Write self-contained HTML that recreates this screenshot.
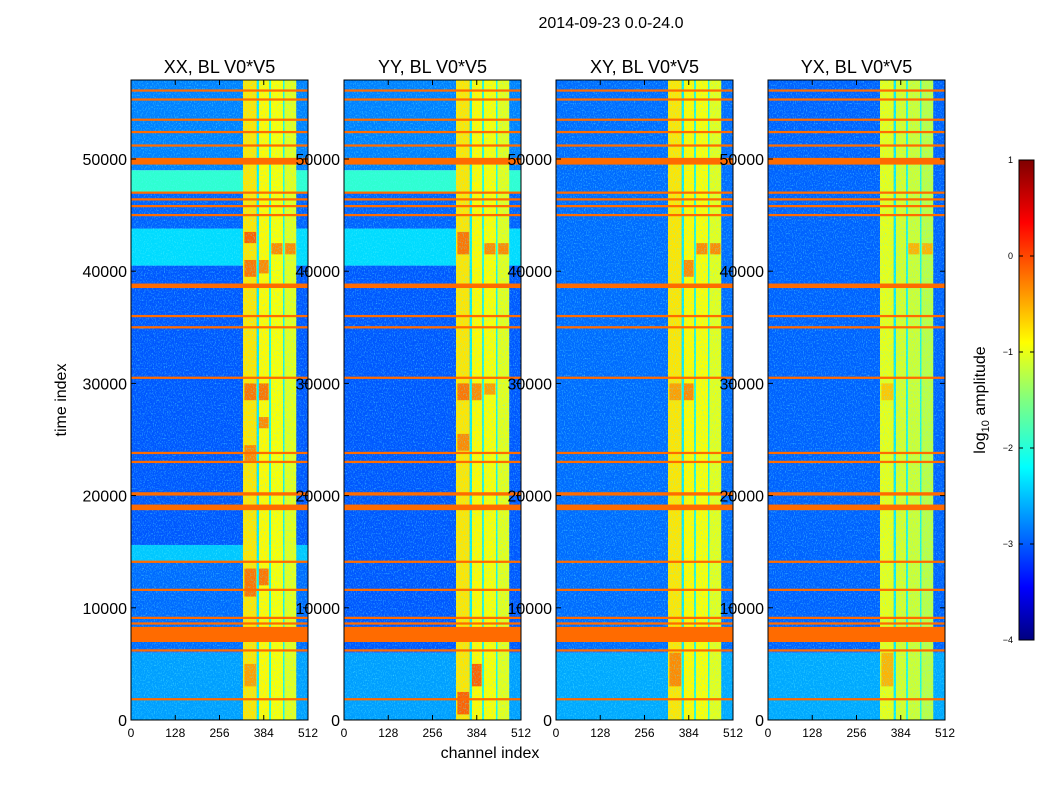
<!DOCTYPE html>
<html><head><meta charset="utf-8"><style>
body{margin:0;background:#fff;width:1050px;height:800px;overflow:hidden}
text{font-family:"Liberation Sans","DejaVu Sans",sans-serif}
</style></head><body>
<svg id="fig" width="1050" height="800" xmlns="http://www.w3.org/2000/svg">
<defs>
<filter id="noise" x="0" y="0" width="100%" height="100%">
<feTurbulence type="fractalNoise" baseFrequency="0.9 0.6" numOctaves="2" seed="3"/>
<feColorMatrix type="matrix" values="0 0 0 0 0.1  0 0 0 0 0.9  0 0 0 0 1  0 0 0 2.6 -1.3"/>
</filter>
<linearGradient id="cbgrad" x1="0" y1="1" x2="0" y2="0">
<stop offset="0" stop-color="#00007f"/><stop offset="0.11" stop-color="#0000ff"/>
<stop offset="0.36" stop-color="#00ffff"/><stop offset="0.5" stop-color="#80ff80"/><stop offset="0.62" stop-color="#ffff00"/>
<stop offset="0.87" stop-color="#ff0000"/><stop offset="1" stop-color="#7f0000"/>
</linearGradient>
</defs>
<text x="611" y="28" font-size="16" text-anchor="middle">2014-09-23 0.0-24.0</text>
</svg>
<script>
const panelTitles = ["XX, BL V0*V5","YY, BL V0*V5","XY, BL V0*V5","YX, BL V0*V5"];
const yTicks = [0,10000,20000,30000,40000,50000];
const xTicks = [0,128,256,384,512];
const cbTicks = [1,0,-1,-2,-3,-4];
const bgXX = [[0,6000,-2.6],[6000,14200,-2.85],[14200,15600,-2.4],[15600,40500,-2.95],[40500,43800,-2.3],[43800,47000,-2.9],[47000,49000,-1.9],[49000,57000,-2.75]];
const bgYY = [[0,6000,-2.6],[6000,40500,-2.95],[40500,43800,-2.3],[43800,47000,-2.9],[47000,49000,-1.9],[49000,57000,-2.75]];
const bgXY = [[0,6000,-2.55],[6000,57000,-2.85]];
const bgYX = [[0,6000,-2.55],[6000,57000,-2.9]];
const hBands = [[1750,1950,-0.15],[6100,6300,-0.15],[6950,8300,-0.15],[8500,8700,-0.15],[9000,9200,-0.15],[11500,11700,-0.15],[14000,14200,-0.15],[18700,19200,-0.15],[20000,20300,-0.15],[22900,23100,-0.15],[23700,23900,-0.15],[30400,30600,-0.15],[34900,35100,-0.15],[35900,36100,-0.15],[38500,38900,-0.15],[44900,45100,-0.15],[45700,45900,-0.15],[46300,46500,-0.15],[46900,47100,-0.15],[49500,50100,-0.15],[51100,51300,-0.15],[52300,52500,-0.15],[53400,53600,-0.15],[55200,55400,-0.15],[56000,56200,-0.15]];
const vBands = [[324,364,-0.75],[364,370,-2.2],[370,400,-0.85],[400,405,-2.0],[405,440,-0.9],[440,444,-2.0],[444,478,-1.0]];
const blocksXX = [[328,362,28500,30000,-0.2],[370,398,28500,30000,-0.2],[328,362,23000,24500,-0.3],[328,362,39500,41000,-0.2],[370,398,39800,41000,-0.3],[406,438,41500,42500,-0.3],[446,476,41500,42500,-0.3],[328,362,42500,43500,-0.1],[328,362,11000,13500,-0.2],[370,398,12000,13500,-0.2],[328,362,3000,5000,-0.4],[370,398,26000,27000,-0.3]];
const blocksYY = [[328,362,500,2500,-0.1],[370,398,3000,5000,-0.1],[328,362,28500,30000,-0.2],[370,398,28500,30000,-0.3],[328,362,41500,43500,-0.2],[406,438,41500,42500,-0.3],[446,476,41500,42500,-0.3],[328,362,24000,25500,-0.3],[406,438,29000,30000,-0.4]];
const blocksXY = [[328,362,3000,6000,-0.3],[370,398,28500,30000,-0.3],[328,362,28500,30000,-0.4],[406,438,41500,42500,-0.3],[446,476,41500,42500,-0.3],[370,398,39500,41000,-0.3]];
const blocksYX = [[328,362,3000,6000,-0.5],[328,362,28500,30000,-0.6],[406,438,41500,42500,-0.5],[446,476,41500,42500,-0.5]];
const panelBg = [bgXX,bgYY,bgXY,bgYX];
const panelBlocks = [blocksXX,blocksYY,blocksXY,blocksYX];
const vScale = [1,1,1,0.85];

const NS="http://www.w3.org/2000/svg";
const svg=document.getElementById('fig');
const panelX=[131,344,556,768], PW=177, PT=80, PB=720, TMAX=57040;
function jet(v){const t=Math.max(0,Math.min(1,(v+4)/5));const c=x=>Math.round(255*Math.max(0,Math.min(1,1.5-Math.abs(4*t-x))));return `rgb(${c(3)},${c(2)},${c(1)})`;}
function mk(tag,attrs,parent){const e=document.createElementNS(NS,tag);for(const k in attrs)e.setAttribute(k,attrs[k]);(parent||svg).appendChild(e);return e;}
panelX.forEach((x0,p)=>{
  const xs=c=>x0+c/512*PW, ys=t=>PB-t/TMAX*(PB-PT);
  const g=mk('g',{});
  
  
  panelBg[p].forEach(s=>{const r=mk('rect',{x:x0,y:ys(s[1]),width:PW,height:ys(s[0])-ys(s[1]),fill:jet(s[2])},g);
    });
  vBands.forEach(b=>{const lv=b[2]<-1.5?b[2]:b[2]*vScale[p]-(vScale[p]<1?0.35:0);const r=mk('rect',{x:xs(b[0]),y:PT,width:xs(b[1])-xs(b[0]),height:PB-PT,fill:jet(lv)},g);
    });
  panelBlocks[p].forEach(b=>{const r=mk('rect',{x:xs(b[0]),y:ys(b[3]),width:xs(b[1])-xs(b[0]),height:ys(b[2])-ys(b[3]),fill:jet(b[4])},g);
    });
  const n=mk('rect',{x:x0,y:PT,width:PW,height:PB-PT,filter:'url(#noise)',opacity:0.6},g);
  
  hBands.forEach(b=>{const r=mk('rect',{x:x0,y:ys(b[1]),width:PW,height:Math.max(1.5,ys(b[0])-ys(b[1])),fill:jet(b[2])},g);
    });
  const f=mk('rect',{x:x0,y:PT,width:PW,height:PB-PT,fill:'none',stroke:'#000','stroke-width':1},g);
  
  const tt=mk('text',{x:x0+PW/2,y:73,'font-size':18,'text-anchor':'middle'},g);tt.textContent=panelTitles[p];
  
  yTicks.forEach(v=>{const y=ys(v);mk('line',{x1:x0,x2:x0+5,y1:y,y2:y,stroke:'#000'},g);mk('line',{x1:x0+PW,x2:x0+PW-5,y1:y,y2:y,stroke:'#000'},g);
    const t=mk('text',{x:x0-4,y:y+6,'font-size':16,'text-anchor':'end'},g);t.textContent=v;
    });
  xTicks.forEach(v=>{const x=xs(v);mk('line',{x1:x,x2:x,y1:PB,y2:PB-5,stroke:'#000'},g);mk('line',{x1:x,x2:x,y1:PT,y2:PT+5,stroke:'#000'},g);
    const t=mk('text',{x:x,y:737,'font-size':12,'text-anchor':'middle'},g);t.textContent=v;
    });
});
let t=mk('text',{x:490,y:758,'font-size':16,'text-anchor':'middle'});t.textContent='channel index';

t=mk('text',{x:66,y:400,'font-size':16,'text-anchor':'middle',transform:'rotate(-90 66 400)'});t.textContent='time index';

const cb=mk('rect',{x:1019,y:160,width:15,height:480,fill:'url(#cbgrad)',stroke:'#000','stroke-width':1});

cbTicks.forEach(v=>{const y=160+(1-v)/5*480;mk('line',{x1:1019,x2:1023,y1:y,y2:y,stroke:'#000'});mk('line',{x1:1034,x2:1030,y1:y,y2:y,stroke:'#000'});
  const l=mk('text',{x:1013,y:y+3,'font-size':9,'text-anchor':'end'});l.textContent=v<0?'\u2212'+(-v):v;
  });
t=mk('text',{x:985,y:400,'font-size':16,'text-anchor':'middle',transform:'rotate(-90 985 400)'});
t.innerHTML='log<tspan font-size="11" dy="4">10</tspan><tspan dy="-4"> amplitude</tspan>';

</script>
</body></html>
